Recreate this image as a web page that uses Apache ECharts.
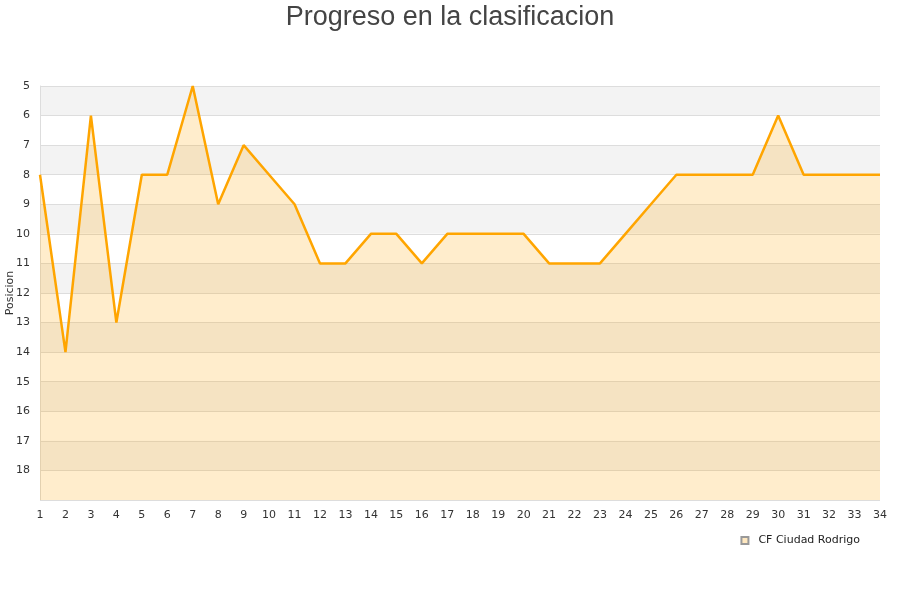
<!DOCTYPE html>
<html><head><meta charset="utf-8">
<script src="https://cdn.jsdelivr.net/npm/echarts@6/dist/echarts.min.js"></script>
<style>html,body{margin:0;padding:0;background:#fff}#c{width:900px;height:600px}</style>
</head><body><div id="c"></div>
<script>
const jornadas = ['1','2','3','4','5','6','7','8','9','10','11','12','13','14','15','16','17','18','19','20','21','22','23','24','25','26','27','28','29','30','31','32','33','34'];
const posiciones = [8,14,6,13,8,8,5,9,7,8,9,11,11,10,10,11,10,10,10,10,11,11,11,10,9,8,8,8,8,6,8,8,8,8];
const equipo = 'CF Ciudad Rodrigo';
const titulo = 'Progreso en la clasificacion';

const chart = echarts.init(document.getElementById('c'));
chart.setOption({
  animation: false,
  title: {text: titulo, left: 'center', top: -1, textStyle: {fontFamily: 'Liberation Sans', fontSize: 27, fontWeight: 'normal', color: '#444'}},
  grid: {left: 40, right: 20, top: 86, bottom: 100, containLabel: false, outerBoundsMode: 'none'},
  legend: {data: [equipo], right: 35, top: 530, itemWidth: 7, itemHeight: 7, icon: 'rect',
    textStyle: {fontFamily: 'DejaVu Sans', fontSize: 11, color: '#222', padding: [0, 0, 0, 5]}},
  xAxis: {type: 'category', data: jornadas, boundaryGap: false,
    axisLine: {show: false}, axisTick: {show: false},
    axisLabel: {fontFamily: 'DejaVu Sans', fontSize: 11, color: '#333', margin: 10, interval: 0},
    splitLine: {show: false}},
  yAxis: {type: 'value', inverse: true, min: 5, max: 19, interval: 1,
    name: 'Posicion', nameLocation: 'middle', nameGap: 24, nameRotate: 90, nameMoveOverlap: false,
    nameTextStyle: {fontFamily: 'DejaVu Sans', fontSize: 11, color: '#333'},
    axisLine: {show: true, lineStyle: {color: '#ddd'}}, axisTick: {show: false},
    axisLabel: {fontFamily: 'DejaVu Sans', fontSize: 11, color: '#333', margin: 10,
      formatter: v => v === 19 ? '' : v},
    splitLine: {show: true, lineStyle: {color: '#ddd'}},
    splitArea: {show: true, areaStyle: {color: ['#f3f3f3', '#ffffff']}}},
  series: [{name: equipo, type: 'line', data: posiciones, showSymbol: false, symbol: 'none',
    lineStyle: {color: '#ffa500', width: 2.5},
    itemStyle: {color: '#ffe8c0', borderColor: '#999', borderWidth: 1},
    areaStyle: {color: 'rgba(255,165,0,0.2)', opacity: 1, origin: 'end'}}]
});
</script></body></html>
